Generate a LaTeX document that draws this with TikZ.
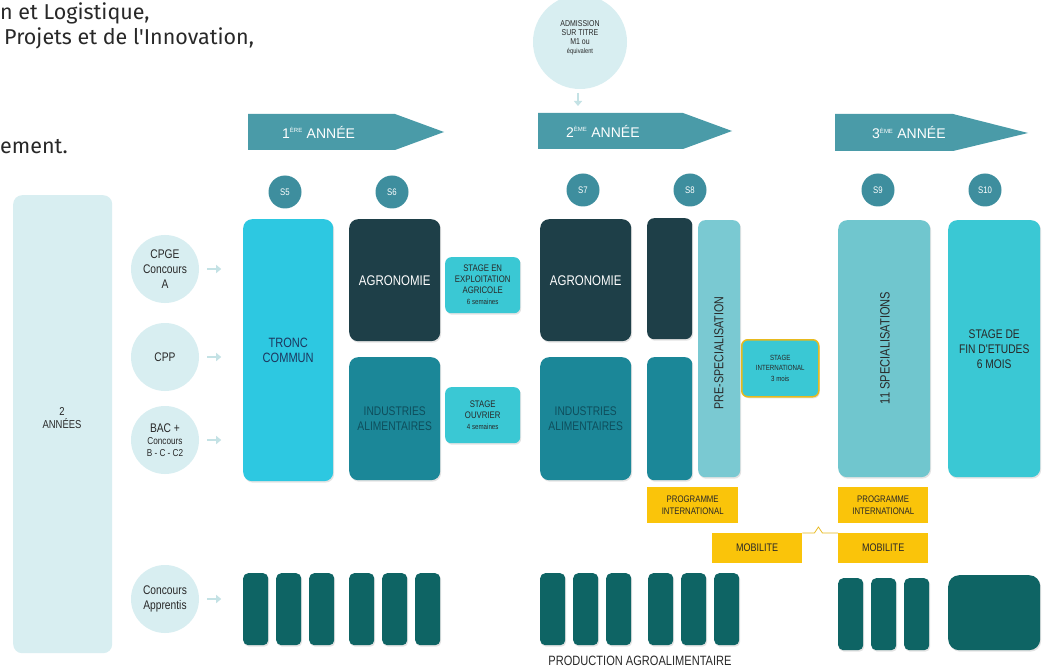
\documentclass[tikz,border=0pt]{standalone}
\usepackage{fontspec}
\setmainfont{Liberation Sans}
\newfontfamily\nar{Liberation Sans}[FakeStretch=0.82]
\newfontfamily\ptfont{Fira Sans}
\usetikzlibrary{arrows.meta,shadows}
\definecolor{hdr}{RGB}{74,155,168}
\definecolor{scirc}{RGB}{62,142,158}
\definecolor{pale}{RGB}{216,238,241}
\definecolor{tronc}{RGB}{45,200,225}
\definecolor{agro}{RGB}{30,63,72}
\definecolor{indus}{RGB}{27,135,152}
\definecolor{indtxt}{RGB}{14,78,92}
\definecolor{stg}{RGB}{58,200,212}
\definecolor{prespec}{RGB}{122,201,210}
\definecolor{spec}{RGB}{112,198,206}
\definecolor{gold}{RGB}{250,196,10}
\definecolor{goldline}{RGB}{232,186,30}
\definecolor{botc}{RGB}{14,100,100}
\definecolor{navy}{RGB}{28,55,95}
\definecolor{txt}{RGB}{40,40,40}
\definecolor{larrow}{RGB}{196,226,229}
\tikzset{
  fs/.style n args={2}{font=\nar\fontsize{#1}{#2}\selectfont},
  box/.style={rounded corners=9pt, inner sep=0pt, anchor=north west, align=center,
    drop shadow={opacity=0.22,shadow xshift=1pt,shadow yshift=-1.5pt}},
  smallbox/.style={rounded corners=6pt, inner sep=0pt, anchor=north west, align=center,
    drop shadow={opacity=0.22,shadow xshift=1pt,shadow yshift=-1.5pt}},
  botbox/.style={rounded corners=5pt, inner sep=0pt, anchor=north west, fill=botc,
    drop shadow={opacity=0.22,shadow xshift=1pt,shadow yshift=-1.5pt}},
  yelbox/.style={fill=gold, inner sep=0pt, anchor=north west, align=center, text=txt},
  scircle/.style={circle, fill=scirc, minimum size=33pt, inner sep=0pt, text=white, fs={9.5}{10}},
  pcirc/.style={circle, fill=pale, minimum size=68pt, inner sep=0pt, align=center, text=txt},
  hdrtxt/.style={text=white, font=\fontsize{14}{16}\selectfont, inner sep=0pt, anchor=west},
  larr/.style={draw=larrow, line width=2.5pt, -{Triangle[length=5pt,width=8pt]}},
  toptext/.style={font=\ptfont\fontsize{21.5}{24}\selectfont, text=txt, inner sep=0pt, anchor=base west}
}
\begin{document}
\begin{tikzpicture}[x=1pt,y=-1pt]
\useasboundingbox (0,0) rectangle (1049,668);
\fill[white] (0,0) rectangle (1049,668);
\clip (0,0) rectangle (1049,668);

% top-left text fragments
\node[toptext] (t1) at (0,20) {n et Logistique,};
\node[toptext] (t2) at (4,45) {Projets et de l'Innovation,};
\node[toptext] (t3) at (0,154) {ement.};

% admission circle
\node[circle, fill=pale, minimum size=94pt, inner sep=0pt] (adm) at (580,42) {};
\node[align=center, text=txt, fs={8.5}{9}, inner sep=0pt] (admtxt) at (580,38)
  {ADMISSION\\SUR TITRE\\M1 ou\\{\fontsize{7}{9}\selectfont équivalent}};
\coordinate (admarr) at (578,106);
\draw[larr] (578,93) -- (admarr);

% year headers
\fill[hdr] (248,114) -- (395,114) -- (444,132) -- (395,150) -- (248,150) -- cycle;
\node[hdrtxt] (y1) at (282,132) {1\textsuperscript{\fontsize{6}{6}\selectfont ÈRE} ANNÉE};
\fill[hdr] (538,113) -- (683,113) -- (732,131) -- (683,149) -- (538,149) -- cycle;
\node[hdrtxt] (y2) at (566,131) {2\textsuperscript{\fontsize{6}{6}\selectfont ÈME} ANNÉE};
\fill[hdr] (835,114) -- (953,114) -- (1028,133) -- (953,151) -- (835,151) -- cycle;
\node[hdrtxt] (y3) at (872,133) {3\textsuperscript{\fontsize{6}{6}\selectfont ÈME} ANNÉE};

% semester circles
\node[scircle] (s5) at (285,192) {S5};
\node[scircle] (s6) at (392,192) {S6};
\node[scircle] (s7) at (583,190) {S7};
\node[scircle] (s8) at (690,190) {S8};
\node[scircle] (s9) at (878,190) {S9};
\node[scircle] (s10) at (985,190) {S10};

% left big rect
\node[rounded corners=9pt, fill=pale, inner sep=0pt, anchor=north west, minimum width=99pt, minimum height=458pt] (deux) at (13,195) {};
\node[align=center, text=txt, fs={11.5}{13}, inner sep=0pt] (deuxtxt) at (62,418) {2\\ANNÉES};

% entry circles
\node[pcirc, fs={12.5}{15}] (cpge) at (165,269) {CPGE\\Concours\\A};
\node[pcirc, fs={12.5}{15}] (cpp) at (165,357) {CPP};
\node[pcirc, fs={12.5}{12}] (bac) at (165,440) {BAC +\\{\fontsize{10}{12}\selectfont Concours}\\{\fontsize{10}{12}\selectfont B - C - C2}};
\node[pcirc, fs={12.5}{15}] (appr) at (165,599) {Concours\\Apprentis};
\foreach \c in {cpge,cpp,bac,appr}{
  \draw[larr] ([xshift=8pt]\c.east) -- ++(14,0);
}

% S5 / S6
\node[box, fill=tronc, minimum width=90pt, minimum height=262pt, text=navy, fs={13.5}{15}] (tronc) at (243,219) {TRONC\\COMMUN};
\node[box, fill=agro, minimum width=91pt, minimum height=122pt, text=white, fs={14}{15}] (agro1) at (349,219) {AGRONOMIE};
\node[box, fill=indus, minimum width=91pt, minimum height=123pt, text=indtxt, fs={12.5}{15}] (ind1) at (349,357) {INDUSTRIES\\ALIMENTAIRES};
\node[smallbox, fill=stg, minimum width=75pt, minimum height=56pt, text=txt, fs={9.5}{11}] (stexp) at (445,257)
  {STAGE EN\\EXPLOITATION\\AGRICOLE\\{\fontsize{7.5}{11}\selectfont 6 semaines}};
\node[smallbox, fill=stg, minimum width=75pt, minimum height=56pt, text=txt, fs={9.5}{11}] (stouv) at (445,387)
  {STAGE\\OUVRIER\\{\fontsize{7.5}{11}\selectfont 4 semaines}};

% S7 / S8
\node[box, fill=agro, minimum width=91pt, minimum height=122pt, text=white, fs={14}{15}] (agro2) at (540,219) {AGRONOMIE};
\node[box, fill=indus, minimum width=91pt, minimum height=123pt, text=indtxt, fs={12.5}{15}] (ind2) at (540,357) {INDUSTRIES\\ALIMENTAIRES};
\node[box, rounded corners=7pt, fill=agro, minimum width=45pt, minimum height=121pt] (agro3) at (647,218) {};
\node[box, rounded corners=7pt, fill=indus, minimum width=45pt, minimum height=123pt] (ind3) at (647,357) {};
\node[box, rounded corners=7pt, fill=prespec, minimum width=42pt, minimum height=257pt] (pre) at (698,220) {};
\node[rotate=90, text=txt, fs={13}{13}, inner sep=0pt] (pretxt) at (719,353) {PRE-SPECIALISATION};
\node[smallbox, fill=stg, draw=goldline, line width=1.5pt, minimum width=77pt, minimum height=57pt, text=txt, fs={7.5}{10.5}] (stint) at (741,339)
  {STAGE\\INTERNATIONAL\\3 mois};
\node[yelbox, minimum width=91pt, minimum height=36pt, fs={9.5}{12}] (pi1) at (647,487) {PROGRAMME\\INTERNATIONAL};
\node[yelbox, minimum width=90pt, minimum height=30pt, fs={11}{12}] (mob1) at (712,533) {MOBILITE};

% S9 / S10
\node[box, fill=spec, minimum width=92pt, minimum height=257pt] (spec) at (838,220) {};
\node[rotate=90, text=txt, fs={13.5}{14}, inner sep=0pt] (spectxt) at (885,348) {11 SPECIALISATIONS};
\node[box, fill=stg, minimum width=92pt, minimum height=257pt, text=txt, fs={12.5}{15}] (fin) at (948,220)
  {STAGE DE\\FIN D'ETUDES\\6 MOIS};
\node[yelbox, minimum width=90pt, minimum height=36pt, fs={9.5}{12}] (pi2) at (838,487) {PROGRAMME\\INTERNATIONAL};
\node[yelbox, minimum width=90pt, minimum height=30pt, fs={11}{12}] (mob2) at (838,533) {MOBILITE};
\draw[goldline, line width=0.8pt] (mob1.north east) -- ++(12,0) coordinate (m1) -- ++(4,-6) coordinate (m2) -- ++(4,6) coordinate (m3) -- (mob2.north west);

% bottom apprentice blocks
\foreach \g/\x/\t in {a/243/573, b/349/573, c/540/573, d/648/573, e/838/578}{
  \foreach \i in {0,1,2}{
    \node[botbox, minimum width=25pt, minimum height=72pt] (bot\g\i) at (\x+\i*33,\t) {};
  }
}
\node[botbox, rounded corners=11pt, minimum width=92pt, minimum height=75pt] (botf) at (948,575) {};
\node[text=txt, fs={13.5}{14}, inner sep=0pt, anchor=base] (prod) at (640,665) {PRODUCTION AGROALIMENTAIRE};
\end{tikzpicture}
\end{document}
